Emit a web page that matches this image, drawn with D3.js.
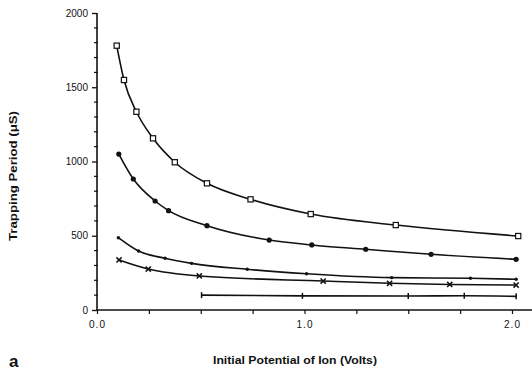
<!DOCTYPE html>
<html>
<head>
<meta charset="utf-8">
<script src="https://cdn.jsdelivr.net/npm/d3@7"></script>
<style>
  body { margin: 0; background: #fff; }
  svg text { font-family: 'Liberation Sans', Arial, sans-serif; fill: #111; }
</style>
</head>
<body>
<div id="chart"></div>
<script>
'use strict'
// values (volts, microseconds)
let squareX = [0.095, 0.13, 0.19, 0.27, 0.375, 0.53, 0.74, 1.03, 1.44, 2.03];
let squareY = [1780, 1549, 1335, 1156, 995, 853, 745, 646, 572, 498];
let circleX = [0.105, 0.175, 0.28, 0.345, 0.53, 0.83, 1.035, 1.295, 1.61, 2.02];
let circleY = [1050, 882, 734, 669, 568, 471, 438, 409, 375, 341];
let dotX = [0.103, 0.2, 0.328, 0.456, 0.724, 1.01, 1.42, 1.8, 2.02];
let dotY = [487, 397, 348, 314, 274, 244, 218, 214, 207];
let crossX = [0.106, 0.247, 0.493, 1.09, 1.41, 1.7, 2.02];
let crossY = [337, 276, 229, 195, 180, 172, 168];
let plusX = [0.504, 0.99, 1.5, 1.77, 2.02];
let plusY = [100, 95, 94, 96, 92];
let yTicks = [0, 500, 1000, 1500, 2000];
let xTicks = [0, 1, 2];

let width = 532, height = 375;
let margin = {top: 13, right: 0, bottom: 65, left: 97};

let x = d3.scaleLinear().domain([0, 2]).range([97, 512]);
let y = d3.scaleLinear().domain([0, 2000]).range([310, 13]);

let svg = d3.select('#chart')
  .append('svg')
  .attr('width', width)
  .attr('height', height);

// axes
let yAxis = d3.axisLeft(y).tickValues(yTicks).tickSize(5).tickFormat(d3.format('d'));
let yAxisG = svg.append('g')
  .attr('transform', 'translate(' + margin.left + ',0)')
  .call(yAxis);
yAxisG.select('.domain').attr('stroke', '#111').attr('stroke-width', 1.6)
  .attr('d', 'M0,' + y(2000) + 'V' + y(0));
yAxisG.selectAll('.tick line').attr('stroke', '#111').attr('stroke-width', 1.3);
yAxisG.selectAll('.tick text').attr('font-size', '10px').attr('x', -9).attr('fill', '#111');

// minor y ticks every 100
svg.append('g').selectAll('line')
  .data(d3.range(0, 2001, 100).filter(function(d) { return d % 500 !== 0; }))
  .enter().append('line')
  .attr('x1', margin.left - 3)
  .attr('x2', margin.left + 1)
  .attr('y1', function(d) { return y(d); })
  .attr('y2', function(d) { return y(d); })
  .attr('stroke', '#111')
  .attr('stroke-width', 1.2);

let xAxis = d3.axisBottom(x).tickValues(d3.range(0, 2.01, 0.25)).tickSize(4)
  .tickFormat(function(d) { return xTicks.indexOf(d) >= 0 ? d3.format('.1f')(d) : ''; });
let xAxisG = svg.append('g')
  .attr('transform', 'translate(0,' + y(0) + ')')
  .call(xAxis);
xAxisG.select('.domain').attr('stroke', '#111').attr('stroke-width', 1.6)
  .attr('d', 'M' + x(0) + ',0H' + width);
xAxisG.selectAll('.tick line').attr('stroke', '#111').attr('stroke-width', 1.2);
xAxisG.selectAll('.tick text').attr('font-size', '10px').attr('y', 11).attr('fill', '#111')
  .attr('letter-spacing', '1px');

// series
let line = d3.line()
  .x(function(d) { return x(d[0]); })
  .y(function(d) { return y(d[1]); })
  .curve(d3.curveMonotoneX);

function addSeries(xs, ys, kind) {
  let pts = xs.map(function(v, i) { return [v, ys[i]]; });
  svg.append('path')
    .datum(pts)
    .attr('fill', 'none')
    .attr('stroke', '#111')
    .attr('stroke-width', 1.6)
    .attr('d', line);
  let g = svg.append('g');
  pts.forEach(function(p) {
    let cx = x(p[0]), cy = y(p[1]);
    if (kind === 'square') {
      g.append('rect').attr('x', cx - 2.6).attr('y', cy - 2.6).attr('width', 5.2).attr('height', 5.2)
        .attr('fill', '#fff').attr('stroke', '#111').attr('stroke-width', 1.2);
    } else if (kind === 'circle') {
      g.append('circle').attr('cx', cx).attr('cy', cy).attr('r', 2.6).attr('fill', '#111');
    } else if (kind === 'dot') {
      g.append('circle').attr('cx', cx).attr('cy', cy).attr('r', 1.7).attr('fill', '#111');
    } else if (kind === 'cross') {
      g.append('path').attr('d', 'M' + (cx - 2.6) + ',' + (cy - 2.6) + 'L' + (cx + 2.6) + ',' + (cy + 2.6) +
        'M' + (cx - 2.6) + ',' + (cy + 2.6) + 'L' + (cx + 2.6) + ',' + (cy - 2.6))
        .attr('stroke', '#111').attr('stroke-width', 1.5);
    } else if (kind === 'plus') {
      g.append('path').attr('d', 'M' + cx + ',' + (cy - 3) + 'V' + (cy + 3))
        .attr('stroke', '#111').attr('stroke-width', 1.5);
    }
  });
}
addSeries(squareX, squareY, 'square');
addSeries(circleX, circleY, 'circle');
addSeries(dotX, dotY, 'dot');
addSeries(crossX, crossY, 'cross');
addSeries(plusX, plusY, 'plus');

// titles
svg.append('text')
  .attr('transform', 'translate(17,176) rotate(-90)')
  .attr('text-anchor', 'middle')
  .attr('font-size', '10px')
  .attr('font-weight', 'bold')
  .attr('textLength', 130)
  .attr('lengthAdjust', 'spacingAndGlyphs')
  .text('Trapping Period (\u03bcS)');
svg.append('text')
  .attr('x', 295)
  .attr('y', 364)
  .attr('text-anchor', 'middle')
  .attr('font-size', '10px')
  .attr('font-weight', 'bold')
  .attr('textLength', 164)
  .attr('lengthAdjust', 'spacingAndGlyphs')
  .text('Initial Potential of Ion (Volts)');
svg.append('text')
  .attr('x', 9)
  .attr('y', 367)
  .attr('font-size', '17px')
  .attr('font-weight', 'bold')
  .text('a');
</script>
</body>
</html>
